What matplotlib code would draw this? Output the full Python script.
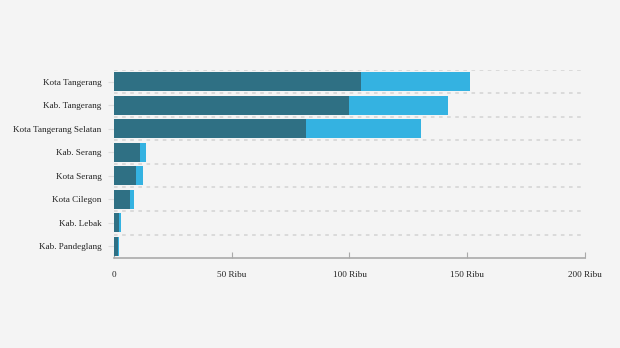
import matplotlib
matplotlib.use("Agg")
import matplotlib.pyplot as plt
import numpy as np

categories = ["Kota Tangerang", "Kab. Tangerang", "Kota Tangerang Selatan", "Kab. Serang",
              "Kota Serang", "Kota Cilegon", "Kab. Lebak", "Kab. Pandeglang"]
series_a = [104.9, 99.8, 81.5, 11.0, 9.3, 6.8, 2.1, 1.7]
series_b = [46.3, 42.0, 48.9, 2.6, 3.0, 1.7, 0.9, 0.4]
xticks = [0, 50, 100, 150, 200]
xticklabels = ["0", "50 Ribu", "100 Ribu", "150 Ribu", "200 Ribu"]

plt.rcParams['font.family'] = ['Liberation Serif', 'DejaVu Serif']
bg = "#f4f4f4"
fig = plt.figure(figsize=(6.2, 3.48), dpi=100, facecolor=bg)
ax = fig.add_axes([0.1839, 0.2586, 0.7596, 0.5403], facecolor=bg)

y = np.arange(len(categories))
ax.barh(y, series_a, height=0.82, color="#2f7084", zorder=3)
ax.barh(y, series_b, left=series_a, height=0.82, color="#34b2e1", zorder=3)

ax.set_ylim(len(categories) - 0.5, -0.5)
ax.set_xlim(0, 200)
for g in np.arange(len(categories)) - 0.5:
    ax.axhline(g, color="#d8d8d8", lw=1.3, ls=(0, (2, 2.5)), zorder=1)

ax.set_yticks(y)
ax.set_yticklabels(categories, fontsize=6.6, color="#222222")
ax.set_xticks(xticks)
ax.set_xticklabels(xticklabels, fontsize=6.6, color="#222222")
ax.tick_params(axis="y", length=4, color="#dddddd", pad=5)
ax.tick_params(axis="x", length=4, color="#aaaaaa", direction="in", pad=9)
for s in ["top", "right", "left"]:
    ax.spines[s].set_visible(False)
ax.spines["bottom"].set_color("#aaaaaa")
ax.spines["bottom"].set_linewidth(1.2)

fig.savefig("out.png", dpi=100, facecolor=bg)
